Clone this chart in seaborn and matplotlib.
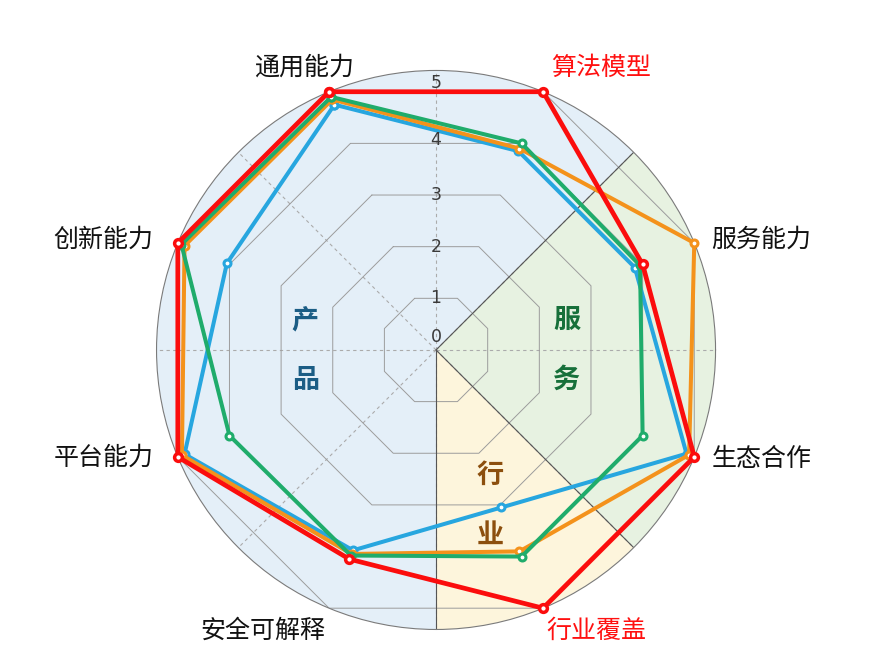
import numpy as np
import pandas as pd
import matplotlib
matplotlib.use('Agg')
import matplotlib.pyplot as plt
import seaborn as sns

# axis names, clockwise from top-left
categories = ['通用能力', '算法模型', '服务能力', '生态合作', '行业覆盖', '安全可解释', '平台能力', '创新能力']
red_scores = [5.0, 5.0, 4.0, 5.0, 5.0, 4.05, 5.0, 5.0]
orange_scores = [4.85, 3.9, 5.0, 4.9, 3.9, 3.95, 4.92, 4.87]
blue_scores = [4.75, 3.85, 3.85, 4.85, 3.05, 3.88, 4.87, 4.05]
green_scores = [4.9, 4.0, 3.95, 4.0, 4.0, 3.98, 4.0, 4.93]
highlight = ['算法模型', '行业覆盖']
ring_ticks = [0, 1, 2, 3, 4, 5]
sector_names = ['产品', '服务', '行业']

sns.set_theme(style='white')
plt.rcParams['font.family'] = ['Noto Sans CJK SC', 'DejaVu Sans']
plt.rcParams['axes.unicode_minus'] = False

fig = plt.figure(figsize=(8.74, 6.61), dpi=100)
ax = fig.add_axes([0.1791, 0.0477, 0.6396, 0.8457], projection='polar')
ax.set_facecolor('white')

n = len(categories)
theta = np.mod(np.deg2rad(112.5 - 45 * np.arange(n)), 2 * np.pi)
theta_closed = np.append(theta, theta[0])

# background sectors: 产品 / 服务 / 行业
sector_spans = [(45, 270, '#e4eff8'), (-45, 45, '#e7f2e1'), (270, 315, '#fdf5dc')]
for a0, a1, col in sector_spans:
    ax.bar(np.deg2rad((a0 + a1) / 2), 5, width=np.deg2rad(a1 - a0), bottom=0,
           color=col, edgecolor='none', zorder=0)

# octagon rings
for lvl in ring_ticks[1:]:
    ax.plot(theta_closed, [lvl] * (n + 1), color='#9c9c9c', lw=0.7, zorder=1)

# sector borders
for a in [45, 270, 315]:
    ax.plot([np.deg2rad(a)] * 2, [0, 5], color='#555555', lw=0.8, zorder=1.5)

series = [
    (blue_scores, '#27a6df', 2.9, 5.0, 2.2, 3),
    (orange_scores, '#f4921b', 2.9, 5.0, 2.2, 4),
    (green_scores, '#1fac6b', 2.9, 5.0, 2.2, 5),
    (red_scores, '#fb0d0d', 3.4, 5.6, 2.5, 6),
]
for vals, col, lw, ms, mew, z in series:
    df = pd.DataFrame({'theta': theta_closed, 'score': np.append(vals, vals[0])})
    sns.lineplot(data=df, x='theta', y='score', sort=False, estimator=None, ax=ax,
                 color=col, lw=lw, marker='o', ms=ms, mfc='white', mec=col, mew=mew,
                 clip_on=False, zorder=z)

ax.set_xlim(0, 2 * np.pi)
ax.set_ylim(0, 5)
ax.set_xlabel('')
ax.set_ylabel('')
ax.set_yticks([])
ax.set_xticks(np.deg2rad(np.arange(0, 360, 45)))
ax.set_xticklabels([])
ax.xaxis.grid(True, linestyle=(0, (3, 3)), color='#ababab', lw=0.8)
ax.spines['polar'].set_color('#7a7a7a')
ax.spines['polar'].set_linewidth(0.8)

# ring values along the vertical axis
nudge = {0: 13, 4: 3, 5: 9}
for v in ring_ticks:
    ax.annotate(str(v), xy=(np.pi / 2, v * np.cos(np.pi / 8)), xytext=(0, nudge.get(v, 0)),
                textcoords='offset pixels', ha='center', va='center', fontsize=12.5,
                color='#3a3a3a', family='DejaVu Sans', annotation_clip=False, zorder=7)

# category labels
label_offsets = [(-25, 24), (58, 24), (67, 3), (67, -2), (53, -23), (-66, -23), (-74, -1), (-74, 3)]
for name, t, (dx, dy) in zip(categories, theta, label_offsets):
    col = '#ff1010' if name in highlight else '#111111'
    ax.annotate(name, xy=(t, 5), xytext=(dx, dy), textcoords='offset pixels',
                ha='center', va='center', fontsize=18, color=col, annotation_clip=False)

# sector captions (vertical, one character per line)
sector_pos = [(180, 2.34, '#1b5d85'), (0, 2.34, '#17703a'), (-70.8, 2.94, '#8c4f0e')]
for name, (ang, rr, col) in zip(sector_names, sector_pos):
    for k, ch in enumerate(name):
        ax.annotate(ch, xy=(np.deg2rad(ang), rr), xytext=(0, 30 - 60 * k),
                    textcoords='offset pixels', ha='center', va='center',
                    fontsize=19.5, fontweight='bold', color=col, zorder=2)

fig.savefig('out.png', dpi=100, facecolor='white')
